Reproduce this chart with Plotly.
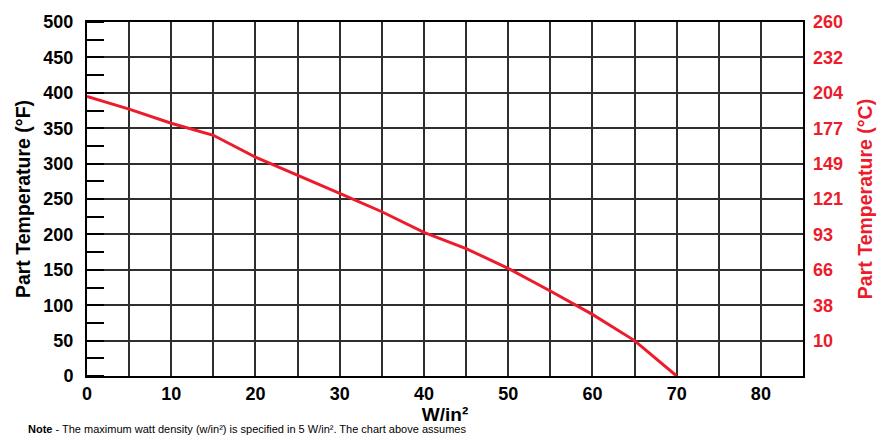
import plotly.graph_objects as go

# Watt density vs. allowable part temperature
watt_density = [0, 5, 10, 15, 20, 25, 30, 35, 40, 45, 50, 55, 60, 65, 70]
part_temp_f = [395, 377, 357, 340, 309, 284, 258, 232, 203, 180, 152, 120, 87, 50, 0]

# Left axis (°F) ticks and matching right axis (°C) labels
f_ticks = [0, 50, 100, 150, 200, 250, 300, 350, 400, 450, 500]
f_gridlines_for_c = [50, 100, 150, 200, 250, 300, 350, 400, 450, 500]
c_labels = ["10", "38", "66", "93", "121", "149", "177", "204", "232", "260"]
x_ticks = [0, 10, 20, 30, 40, 50, 60, 70, 80]

RED = "#ec1c2c"
GRID = "#2e2e2e"
FONT = "Liberation Sans, Arial, sans-serif"


def f_to_c(f):
    return (f - 32) * 5 / 9


fig = go.Figure()
fig.add_trace(go.Scatter(
    x=watt_density, y=part_temp_f, mode="lines",
    line=dict(color=RED, width=3), showlegend=False, hoverinfo="skip",
))
# invisible trace so the °C axis is rendered
fig.add_trace(go.Scatter(
    x=[0], y=[f_to_c(0)], yaxis="y2", mode="markers",
    marker=dict(opacity=0), showlegend=False, hoverinfo="skip",
))

fig.update_layout(
    width=892, height=438,
    margin=dict(l=87, r=89, t=14, b=62),
    paper_bgcolor="white", plot_bgcolor="white",
    font=dict(family=FONT, color="black"),
    xaxis=dict(
        range=[0, 85], tickvals=x_ticks, ticks="",
        tickfont=dict(size=18, family=FONT, weight="bold"),
        showgrid=True, gridcolor=GRID, gridwidth=1.5,
        minor=dict(dtick=5, showgrid=True, gridcolor=GRID, gridwidth=1.5),
        showline=True, linecolor="black", linewidth=2, mirror=True,
        zeroline=False, ticklabelstandoff=0,
        title=dict(text="<b>W/in²</b>", font=dict(size=19), standoff=0),
    ),
    yaxis=dict(
        range=[0, 500], tickvals=f_ticks, ticks="",
        tickfont=dict(size=18, family=FONT, weight="bold"),
        showgrid=True, gridcolor=GRID, gridwidth=1.5,
        minor=dict(dtick=25, ticks="inside", ticklen=17, tickwidth=1.5,
                   tickcolor="black", showgrid=False),
        showline=True, linecolor="black", linewidth=2, mirror=True,
        zeroline=False, ticklabelstandoff=8,
        title=dict(text="<b>Part Temperature (°F)</b>", font=dict(size=19.5), standoff=8),
    ),
    yaxis2=dict(
        overlaying="y", side="right",
        range=[f_to_c(0), f_to_c(500)],
        tickvals=[f_to_c(v) for v in f_gridlines_for_c], ticktext=c_labels,
        ticks="", showgrid=False, zeroline=False, showline=False,
        tickfont=dict(size=18, family=FONT, weight="bold", color=RED),
        ticklabelstandoff=9,
        title=dict(text="<b>Part Temperature (°C)</b>", font=dict(size=19.5, color=RED),
                   standoff=16),
    ),
    annotations=[dict(
        xref="paper", yref="paper", x=-0.085, y=-0.128,
        xanchor="left", yanchor="top", showarrow=False,
        text="<b>Note</b> - The maximum watt density (w/in²) is specified in 5 W/in². The chart above assumes",
        font=dict(size=11, family=FONT, color="black"),
    )],
)

fig.write_html("out.html")
